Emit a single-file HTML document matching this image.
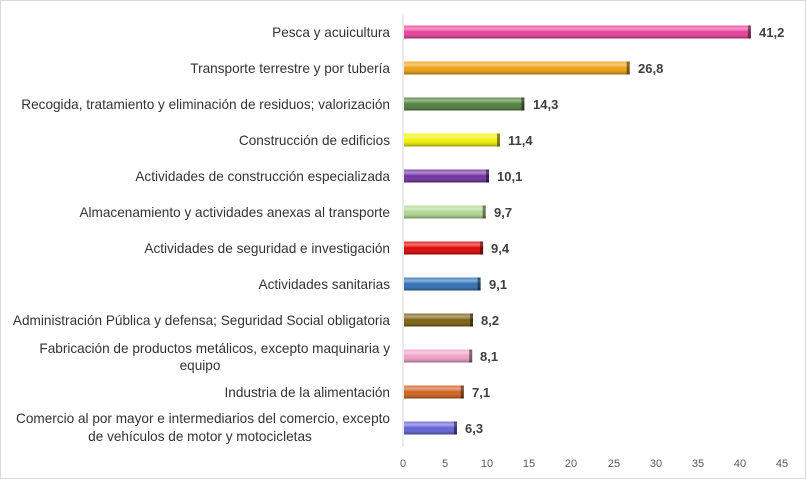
<!DOCTYPE html>
<html><head><meta charset="utf-8"><style>
body{margin:0;background:#fff}
svg{display:block}
text{font-family:"Liberation Sans",sans-serif;font-size:13.6px;fill:#333}
.v{font-weight:bold;font-size:13px;fill:#404040}
.t{font-size:11px;fill:#595959}
</style></head><body>
<svg width="806" height="479" viewBox="0 0 806 479">
<defs>
<linearGradient id="sh" x1="0" y1="0" x2="0" y2="1">
<stop offset="0" stop-color="#fff" stop-opacity="0.15"/>
<stop offset="0.25" stop-color="#fff" stop-opacity="0.45"/>
<stop offset="0.5" stop-color="#fff" stop-opacity="0"/>
<stop offset="1" stop-color="#000" stop-opacity="0.35"/>
</linearGradient>
</defs>
<rect x="0.5" y="0.5" width="805" height="478" fill="#fff" stroke="#d9d9d9"/>
<line x1="403" y1="15" x2="403" y2="447" stroke="#d9d9d9"/>

<g>
<rect x="404" y="25.5" width="346.9" height="13" fill="#e8409a"/>
<rect x="404" y="61.5" width="225.7" height="13" fill="#f0a010"/>
<rect x="404" y="97.5" width="120.4" height="13" fill="#50803a"/>
<rect x="404" y="133.5" width="96" height="13" fill="#f0f000"/>
<rect x="404" y="169.5" width="85" height="13" fill="#7030a0"/>
<rect x="404" y="205.5" width="81.7" height="13" fill="#b0d890"/>
<rect x="404" y="241.5" width="79.1" height="13" fill="#e00000"/>
<rect x="404" y="277.5" width="76.6" height="13" fill="#2e70b8"/>
<rect x="404" y="313.5" width="69" height="13" fill="#7a6010"/>
<rect x="404" y="349.5" width="68.2" height="13" fill="#f0a0c8"/>
<rect x="404" y="385.5" width="59.8" height="13" fill="#d06020"/>
<rect x="404" y="421.5" width="53" height="13" fill="#6060d8"/>
</g>
<g fill="url(#sh)">
<rect x="404" y="25.5" width="346.9" height="13"/>
<rect x="404" y="61.5" width="225.7" height="13"/>
<rect x="404" y="97.5" width="120.4" height="13"/>
<rect x="404" y="133.5" width="96" height="13"/>
<rect x="404" y="169.5" width="85" height="13"/>
<rect x="404" y="205.5" width="81.7" height="13"/>
<rect x="404" y="241.5" width="79.1" height="13"/>
<rect x="404" y="277.5" width="76.6" height="13"/>
<rect x="404" y="313.5" width="69" height="13"/>
<rect x="404" y="349.5" width="68.2" height="13"/>
<rect x="404" y="385.5" width="59.8" height="13"/>
<rect x="404" y="421.5" width="53" height="13"/>
</g>
<g fill="#000" opacity="0.45">
<rect x="747.9" y="25.5" width="3" height="13"/>
<rect x="626.7" y="61.5" width="3" height="13"/>
<rect x="521.4" y="97.5" width="3" height="13"/>
<rect x="497" y="133.5" width="3" height="13"/>
<rect x="486" y="169.5" width="3" height="13"/>
<rect x="482.7" y="205.5" width="3" height="13"/>
<rect x="480.1" y="241.5" width="3" height="13"/>
<rect x="477.6" y="277.5" width="3" height="13"/>
<rect x="470" y="313.5" width="3" height="13"/>
<rect x="469.2" y="349.5" width="3" height="13"/>
<rect x="460.8" y="385.5" width="3" height="13"/>
<rect x="454" y="421.5" width="3" height="13"/>
</g>
<g>
<text class="v" x="759" y="37">41,2</text>
<text class="v" x="638" y="73">26,8</text>
<text class="v" x="533" y="109">14,3</text>
<text class="v" x="508" y="145">11,4</text>
<text class="v" x="497" y="181">10,1</text>
<text class="v" x="494" y="217">9,7</text>
<text class="v" x="491" y="253">9,4</text>
<text class="v" x="489" y="289">9,1</text>
<text class="v" x="481" y="325">8,2</text>
<text class="v" x="480" y="361">8,1</text>
<text class="v" x="472" y="397">7,1</text>
<text class="v" x="465" y="433">6,3</text>
</g>

<g text-anchor="end">
<text x="390" y="37">Pesca y acuicultura</text>
<text x="390" y="73">Transporte terrestre y por tubería</text>
<text x="390" y="109">Recogida, tratamiento y eliminación de residuos; valorización</text>
<text x="390" y="145">Construcción de edificios</text>
<text x="390" y="181">Actividades de construcción especializada</text>
<text x="390" y="217">Almacenamiento y actividades anexas al transporte</text>
<text x="390" y="253">Actividades de seguridad e investigación</text>
<text x="390" y="289">Actividades sanitarias</text>
<text x="390" y="325">Administración Pública y defensa; Seguridad Social obligatoria</text>
<text x="390" y="353">Fabricación de productos metálicos, excepto maquinaria y</text>
<text x="390" y="397">Industria de la alimentación</text>
<text x="390" y="423">Comercio al por mayor e intermediarios del comercio, excepto</text>
</g>
<text x="200" y="370" text-anchor="middle">equipo</text>
<text x="200" y="441" text-anchor="middle">de vehículos de motor y motocicletas</text>
<g text-anchor="middle">
<text class="t" x="403" y="467">0</text><text class="t" x="445" y="467">5</text><text class="t" x="487" y="467">10</text><text class="t" x="529" y="467">15</text><text class="t" x="571" y="467">20</text><text class="t" x="614" y="467">25</text><text class="t" x="656" y="467">30</text><text class="t" x="698" y="467">35</text><text class="t" x="740" y="467">40</text><text class="t" x="782" y="467">45</text>
</g>
</svg>
</body></html>
